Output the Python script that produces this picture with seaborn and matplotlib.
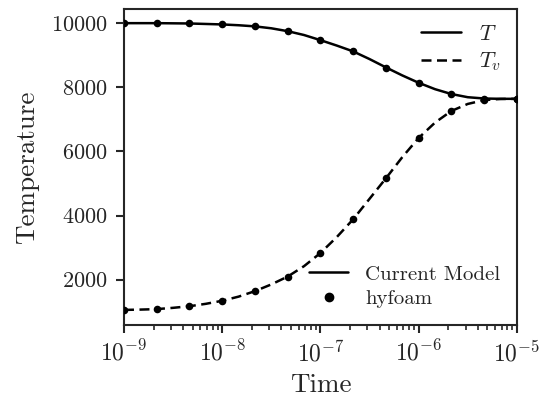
import numpy as np
import pandas as pd
import matplotlib
matplotlib.use("Agg")
import matplotlib.pyplot as plt
from matplotlib.lines import Line2D
import seaborn as sns

# hyfoam data points
time_pts = [1e-9, 2.15e-9, 4.64e-9, 1e-8, 2.15e-8, 4.64e-8, 1e-7, 2.15e-7,
            4.64e-7, 1e-6, 2.15e-6, 4.64e-6, 1e-5]
T_hyfoam = [10000, 10000, 9990, 9960, 9900, 9750, 9465, 9120, 8615, 8140,
            7790, 7640, 7640]
Tv_hyfoam = [1055, 1077, 1172, 1340, 1643, 2094, 2828, 3880, 5160, 6420,
             7260, 7600, 7640]

# current model curves
time_model = [1e-9, 1.47e-9, 2.15e-9, 3.16e-9, 4.64e-9, 6.81e-9, 1e-8,
              1.47e-8, 2.15e-8, 3.16e-8, 4.64e-8, 6.81e-8, 1e-7, 1.47e-7,
              2.15e-7, 3.16e-7, 4.64e-7, 6.81e-7, 1e-6, 1.47e-6, 2.15e-6,
              3.16e-6, 4.64e-6, 6.81e-6, 1e-5]
T_model = [10000, 10000, 10000, 9995, 9990, 9975, 9960, 9935, 9900, 9840,
           9750, 9630, 9470, 9300, 9120, 8880, 8620, 8370, 8140, 7940,
           7790, 7690, 7650, 7640, 7640]
Tv_model = [1055, 1065, 1080, 1120, 1170, 1245, 1340, 1470, 1640, 1850,
            2095, 2420, 2830, 3330, 3880, 4520, 5160, 5820, 6420, 6900,
            7260, 7480, 7600, 7635, 7640]

sns.set_style("ticks")
plt.rcParams.update({
    "font.family": "serif",
    "font.serif": ["cmr10", "DejaVu Serif"],
    "mathtext.fontset": "cm",
    "axes.formatter.use_mathtext": True,
    "axes.unicode_minus": False,
    "axes.linewidth": 1.5,
    "xtick.major.width": 1.5,
    "ytick.major.width": 1.5,
    "xtick.minor.width": 1.2,
    "xtick.major.size": 6,
    "ytick.major.size": 6,
    "xtick.minor.size": 3.5,
    "xtick.direction": "out",
    "ytick.direction": "out",
})

LW = 1.8
DASH = (0, (4, 2.2))

fig = plt.figure(figsize=(5.39, 3.97), dpi=100)
ax = fig.add_axes([0.230, 0.181, 0.729, 0.797])

model_df = pd.DataFrame({"time": time_model, "T": T_model, "Tv": Tv_model})
hy_df = pd.DataFrame({"time": time_pts, "T": T_hyfoam, "Tv": Tv_hyfoam})

sns.lineplot(data=model_df, x="time", y="T", ax=ax, color="black", lw=LW)
sns.lineplot(data=model_df, x="time", y="Tv", ax=ax, color="black", lw=LW,
             linestyle=DASH)
sns.scatterplot(data=hy_df, x="time", y="T", ax=ax, color="black", s=30,
                edgecolor="black", linewidth=0, zorder=3)
sns.scatterplot(data=hy_df, x="time", y="Tv", ax=ax, color="black", s=30,
                edgecolor="black", linewidth=0, zorder=3)

ax.set_xscale("log")
ax.set_xlim(1e-9, 1e-5)
ax.set_ylim(580, 10450)
ax.set_yticks([2000, 4000, 6000, 8000, 10000])
ax.set_xlabel("Time", fontsize=19.5, labelpad=5)
ax.set_ylabel("Temperature", fontsize=19.5, labelpad=8)
ax.tick_params(axis="y", labelsize=16, pad=6)
ax.tick_params(axis="x", labelsize=17, pad=5)

h1 = [Line2D([], [], color="black", lw=LW),
      Line2D([], [], color="black", lw=LW, linestyle=DASH)]
leg1 = ax.legend(h1, ["$T$", "$T_v$"], loc="upper right", frameon=False,
                 fontsize=16, handlelength=1.8, borderaxespad=0.3,
                 labelspacing=0.3)
ax.add_artist(leg1)
h2 = [Line2D([], [], color="black", lw=LW),
      Line2D([], [], color="black", marker="o", linestyle="none", markersize=6)]
ax.legend(h2, ["Current Model", "hyfoam"], loc="lower right", frameon=False,
          fontsize=15, handlelength=1.9, borderaxespad=0.4, labelspacing=0.3)

fig.savefig("out.png", dpi=100)
